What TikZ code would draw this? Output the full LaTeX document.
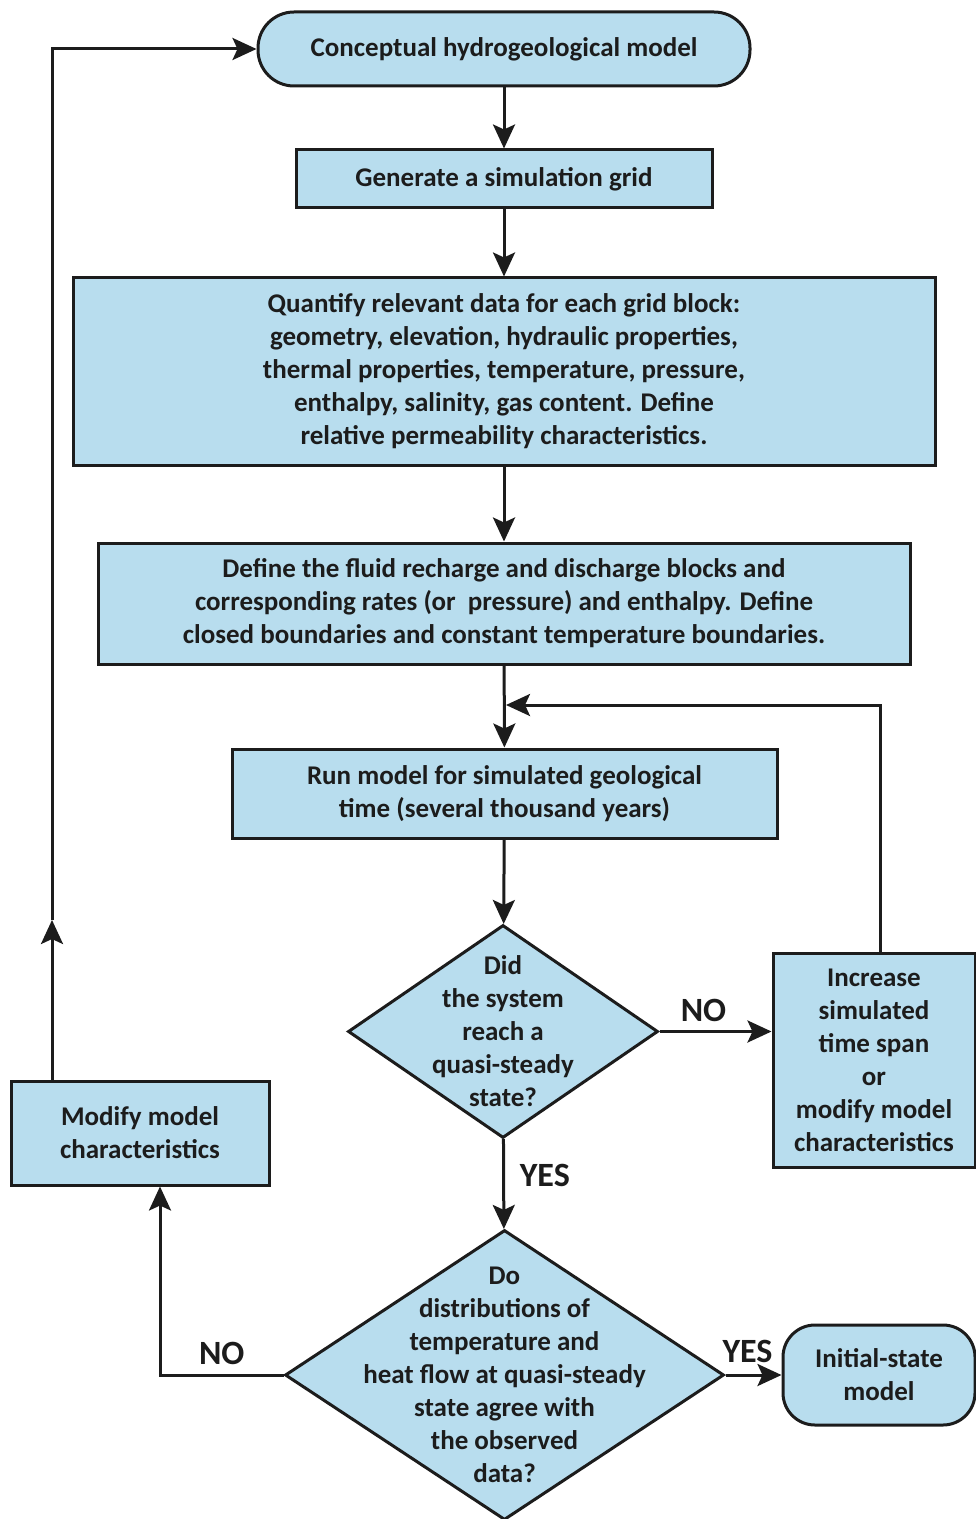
\documentclass[tikz,border=0pt]{standalone}
\usepackage{fontspec}
\setmainfont{Carlito}
\usetikzlibrary{shapes.geometric,arrows.meta}
\definecolor{boxblue}{RGB}{184,221,238}
\definecolor{ink}{RGB}{28,28,28}
\begin{document}
\begin{tikzpicture}[
  x=0.5pt, y=-0.5pt,
  font=\fontsize{13.5}{16.5}\selectfont\bfseries,
  every node/.style={align=center, text=ink},
  box/.style={draw=ink, line width=1.5pt, fill=boxblue, inner sep=0pt},
  term/.style={box, rounded corners=18pt},
  decision/.style={box, diamond},
  flow/.style={-{Stealth[length=12pt,width=11pt,inset=2.5pt]}, line width=1.5pt, draw=ink},
  answer/.style={font=\fontsize{17}{20}\selectfont\bfseries}]

\useasboundingbox (0,0) rectangle (975,1519);

% Main column of steps
\node[term, minimum width=246pt, minimum height=37pt] (concept) at (504,49) {Conceptual hydrogeological model};
\node[box, minimum width=208pt, minimum height=29pt] (grid) at (504,179) {Generate a simulation grid};
\node[box, minimum width=431pt, minimum height=93.5pt] (quantify) at (504,371.5)
  {Quantify relevant data for each grid block:\\ geometry, elevation, hydraulic properties,\\
   thermal properties, temperature, pressure,\\ enthalpy, salinity, gas content. Define\\
   relative permeability characteristics.};
\node[box, minimum width=406pt, minimum height=60.5pt] (define) at (504,603.5)
  {Define the fluid recharge and discharge blocks and\\ corresponding rates (or~ pressure) and enthalpy. Define\\
   closed boundaries and constant temperature boundaries.};
\node[box, minimum width=272.5pt, minimum height=44.5pt] (run) at (504.5,793.5)
  {Run model for simulated geological\\ time (several thousand years)};

% Decisions
\node[decision, minimum width=155pt, minimum height=106.5pt,
  label={[align=center]center:Did\\ the system\\ reach a\\ quasi-steady\\ state?}] (steady) at (503,1031.5) {};
\node[decision, minimum width=219.5pt, minimum height=145pt,
  label={[align=center]center:Do\\ distributions of\\ temperature and\\ heat flow at quasi-steady\\ state agree with\\ the observed\\ data?}] (agree) at (504.5,1375) {};

% Side boxes
\node[box, minimum width=101pt, minimum height=107pt] (increase) at (874,1060)
  {Increase\\ simulated\\ time span\\ or\\ modify model\\ characteristics};
\node[box, minimum width=129pt, minimum height=52pt] (modify) at (140,1133)
  {Modify model\\ characteristics};
\node[term, minimum width=96pt, minimum height=50pt, rounded corners=16pt] (initial) at (879,1375)
  {Initial-state\\ model};

\coordinate (join) at (506,705);
\coordinate (upmark) at (52,920);

% Arrows
\draw[flow] (concept) -- (grid);
\draw[flow] (grid) -- (quantify);
\draw[flow] (quantify) -- (define);
\draw[flow] (define) -- (run);
\draw[flow] (run) -- (steady);
\draw[flow] (steady.east) -- node[answer, above=1pt, xshift=-6pt] {NO} (steady.east -| increase.west);
\draw[flow] ([xshift=3pt]increase.north) |- (join);
\draw[flow] (steady) -- node[answer, right=4pt, pos=0.4] {YES} (agree);
\draw[flow] (agree.west) -| node[answer, above=1pt, pos=0.25] {NO} ([xshift=10pt]modify.south);
\draw[flow] (agree) -- node[answer, above=2pt, xshift=-3pt] {YES} (initial);
\draw[flow] ([xshift=-44pt]modify.north) -- (upmark);
\draw[flow] (upmark) |- (concept.west);
\end{tikzpicture}
\end{document}
